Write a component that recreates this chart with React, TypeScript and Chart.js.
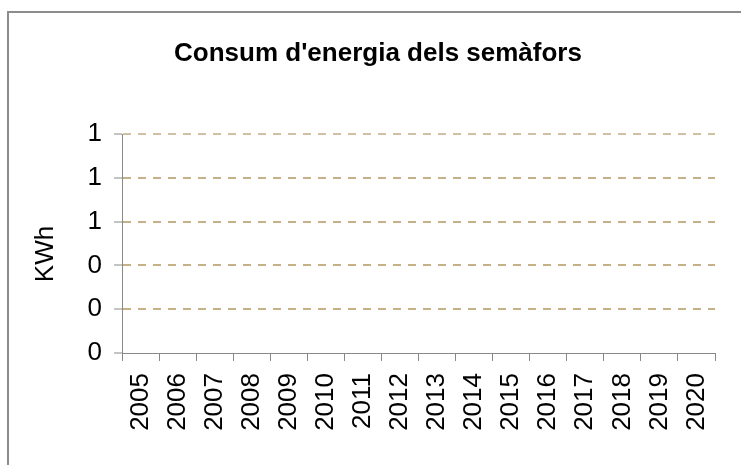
import React, { useEffect, useRef } from "react";
import { Chart, registerables } from "chart.js";

Chart.register(...registerables);

const chartTitle = "Consum d'energia dels semàfors";
const yAxisTitle = "KWh";
const years = ["2005","2006","2007","2008","2009","2010","2011","2012","2013","2014","2015","2016","2017","2018","2019","2020"];
const consumValues: (number | null)[] = [null,null,null,null,null,null,null,null,null,null,null,null,null,null,null,null];
const yMin = 0;
const yMax = 1;
const yStep = 0.2;

const FONT = "'Liberation Sans', Arial, sans-serif";

export default function App() {
  const ref = useRef<HTMLCanvasElement | null>(null);
  useEffect(() => {
    if (!ref.current) return;
    const yTitlePlugin = {
      id: "yTitle",
      afterDraw(chart: any) {
        const ctx = chart.ctx;
        ctx.save();
        ctx.translate(37, 241);
        ctx.rotate(-Math.PI / 2);
        ctx.font = `26px ${FONT}`;
        ctx.fillStyle = "#000";
        ctx.textAlign = "center";
        ctx.textBaseline = "middle";
        ctx.fillText(yAxisTitle, 0, 0);
        ctx.restore();
      },
    };
    const gridColor = (c: any) => {
      const v = c.tick ? c.tick.value : -1;
      if (v === 0) return "rgba(0,0,0,0)";
      if (v >= 0.99) return "#d0c1a3";
      return "#c6b088";
    };
    const chart = new Chart(ref.current, {
      type: "bar",
      data: {
        labels: years,
        datasets: [{ label: "Consum", data: consumValues, backgroundColor: "#4f81bd" }],
      },
      options: {
        animation: false,
        responsive: false,
        layout: { padding: { left: 32, top: 0, right: 32, bottom: 0 } },
        plugins: {
          legend: { display: false },
          tooltip: { enabled: false },
          title: {
            display: true,
            text: chartTitle,
            color: "#000",
            font: { family: FONT, size: 26, weight: "bold" },
            padding: { top: 25, bottom: 65 },
          },
        },
        scales: {
          x: {
            grid: {
              offset: true,
              drawOnChartArea: false,
              drawTicks: true,
              tickLength: 8,
              color: "#888",
              tickColor: "#888",
            },
            border: { display: true, color: "#888", width: 1 },
            ticks: {
              color: "#000",
              font: { family: FONT, size: 26 },
              maxRotation: 90,
              minRotation: 90,
              padding: 12,
              autoSkip: false,
            },
            afterFit(scale: any) {
              scale.height = 112;
            },
          },
          y: {
            min: yMin,
            max: yMax,
            grid: {
              color: gridColor,
              lineWidth: 2,
              tickColor: "#888",
              tickWidth: 1,
              tickLength: 8,
              tickBorderDash: [],
            },
            border: { display: true, color: "#888", width: 1, dash: [8, 7] },
            ticks: {
              stepSize: yStep,
              color: "#000",
              font: { family: FONT, size: 26 },
              padding: 12,
              callback: (v: any) => String(Math.round(Number(v))),
            },
            afterFit(scale: any) {
              scale.width = 81;
            },
          },
        },
      },
      plugins: [yTitlePlugin],
    } as any);
    return () => chart.destroy();
  }, []);

  return (
    <div style={{ position: "fixed", left: 0, top: 0, width: 741, height: 465, overflow: "hidden", background: "#fff" }}>
      <div
        style={{
          position: "absolute",
          left: 7,
          top: 11,
          width: 800,
          height: 500,
          borderLeft: "2px solid #8c8c8c",
          borderTop: "2px solid #8c8c8c",
        }}
      >
        <canvas ref={ref} width={738} height={452} style={{ display: "block", width: 738, height: 452 }} />
      </div>
    </div>
  );
}
